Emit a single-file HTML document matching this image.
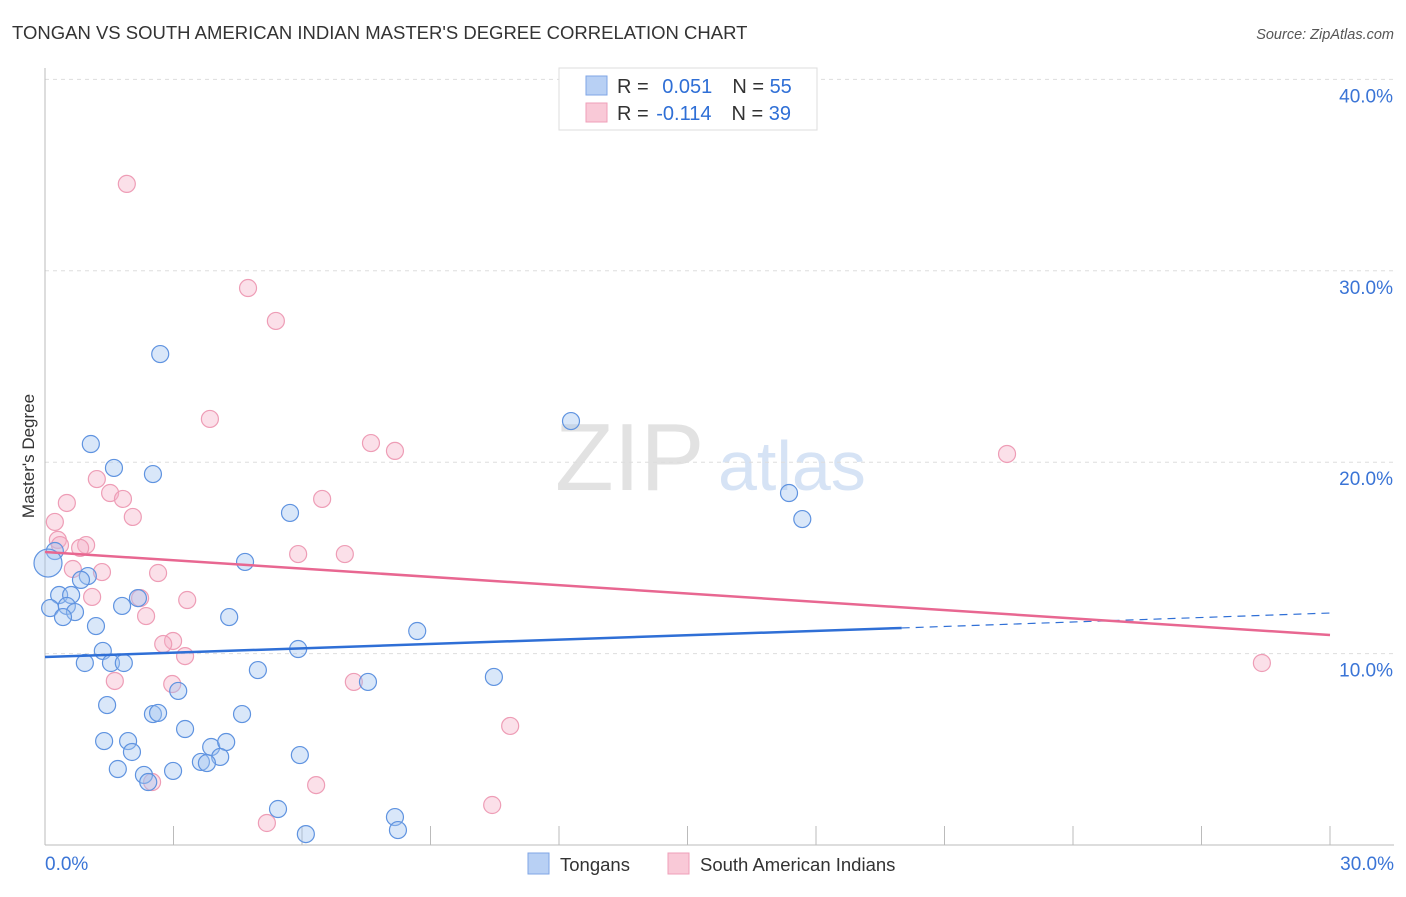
<!DOCTYPE html>
<html><head><meta charset="utf-8"><style>
body{margin:0;background:#fff;font-family:"Liberation Sans",sans-serif}
svg text{font-family:"Liberation Sans",sans-serif}
</style></head><body>
<svg id="chart" width="1406" height="892">
<text x="12" y="39" font-size="18.5" fill="#333">TONGAN VS SOUTH AMERICAN INDIAN MASTER'S DEGREE CORRELATION CHART</text>
<text x="1394" y="39" font-size="14.5" fill="#555" text-anchor="end" font-style="italic">Source: ZipAtlas.com</text>
<text x="34" y="456" font-size="17" fill="#333" text-anchor="middle" transform="rotate(-90 34 456)">Master's Degree</text>
<text x="555" y="490" font-size="96" fill="#e2e2e2" font-family="Liberation Serif">ZIP</text>
<text x="718" y="490" font-size="70" fill="#d6e3f5">atlas</text>
<g id="grid"></g>
<g id="axes"></g>
<g id="marks"></g>
<g id="legend">
<rect x="559" y="68" width="258" height="62" fill="#fff" stroke="#ddd"/>
<rect x="586" y="76" width="21" height="19" fill="#b8d0f4" stroke="#7fa6e6"/>
<rect x="586" y="103" width="21" height="19" fill="#f9c9d7" stroke="#ef9fb8"/>
<text x="617" y="93" font-size="20" fill="#333">R = <tspan fill="#2f6fd6" dx="8">0.051</tspan><tspan fill="#333" dx="20">N = </tspan><tspan fill="#2f6fd6">55</tspan></text>
<text x="617" y="120" font-size="20" fill="#333">R = <tspan fill="#2f6fd6" dx="2">-0.114</tspan><tspan fill="#333" dx="20">N = </tspan><tspan fill="#2f6fd6">39</tspan></text>
</g>
<g>
<rect x="528" y="853" width="21" height="21" fill="#b8d0f4" stroke="#7fa6e6"/>
<text x="560" y="871" font-size="18.5" fill="#333">Tongans</text>
<rect x="668" y="853" width="21" height="21" fill="#f9c9d7" stroke="#ef9fb8"/>
<text x="700" y="871" font-size="18.5" fill="#333">South American Indians</text>
</g>
</svg>
<script>
const xTicks=[0,30];
const yTicks=[10,20,30,40];
const blueX=[2.69,1.07,1.61,2.52,12.28,17.37,17.68,5.72,0.23,0.07,4.67,1.00,0.84,0.33,0.61,0.12,0.51,0.70,0.42,1.80,2.17,1.19,4.30,8.69,1.35,5.91,0.93,1.54,1.84,4.97,7.54,10.48,3.11,1.45,2.52,2.64,4.60,3.27,1.94,2.03,3.88,4.23,4.09,3.64,3.78,5.95,1.70,2.31,2.99,2.41,5.44,8.17,6.09,8.24,1.38];
const blueY=[25.65,20.95,19.70,19.38,22.15,18.39,17.03,17.35,15.36,14.73,14.79,14.05,13.85,13.06,13.06,12.38,12.49,12.17,11.91,12.49,12.90,11.44,11.91,11.18,10.14,10.24,9.51,9.51,9.51,9.14,8.52,8.78,8.05,7.31,6.84,6.90,6.84,6.06,5.43,4.86,5.12,5.38,4.60,4.34,4.28,4.70,3.97,3.66,3.87,3.29,1.88,1.46,0.57,0.78,5.43];
const pinkX=[1.91,4.74,5.39,3.85,7.61,8.17,22.46,1.21,0.51,1.52,1.82,6.47,2.05,0.23,0.30,0.35,0.96,0.82,5.91,7.00,0.65,1.33,2.64,1.10,2.22,3.32,2.36,2.99,2.76,3.27,1.63,2.97,7.21,10.86,6.33,2.50,10.44,5.18,28.41];
const pinkY=[34.54,29.10,27.38,22.26,21.00,20.59,20.43,19.12,17.87,18.39,18.08,18.08,17.14,16.88,15.94,15.67,15.67,15.52,15.20,15.20,14.42,14.26,14.21,12.96,12.90,12.80,11.96,10.66,10.50,9.87,8.57,8.41,8.52,6.22,3.13,3.29,2.09,1.15,9.51];
const blueTrend=[9.82,11.34,12.12]; // at x=0,20,30
const pinkTrend=[15.31,10.97]; // at x=0,30
const X0=45,X1=1330,Y0=845,PPY=19.14;
const sx=v=>X0+(v/30)*(X1-X0);
const sy=v=>Y0-v*PPY;
const NS="http://www.w3.org/2000/svg";
function mk(tag,attrs,parent){const e=document.createElementNS(NS,tag);for(const k in attrs)e.setAttribute(k,attrs[k]);parent.appendChild(e);return e;}
const grid=document.getElementById('grid'),axes=document.getElementById('axes'),marks=document.getElementById('marks');
yTicks.forEach(t=>{
 const l=mk('line',{x1:45,x2:1394,y1:sy(t),y2:sy(t),stroke:'#ddd','stroke-dasharray':'4,4'},grid);
 
 
 const tx=mk('text',{x:1393,y:sy(t)+23,'font-size':19,fill:'#3a74d6','text-anchor':'end'},axes);
 tx.textContent=t.toFixed(1)+'%';
 
 
});
const ax=mk('line',{x1:45,x2:45,y1:68,y2:845,stroke:'#bbb'},axes);


const bx=mk('line',{x1:45,x2:1394,y1:845,y2:845,stroke:'#bbb'},axes);


for(let i=1;i<=10;i++){
 const xx=X0+i*(X1-X0)/10;
 const tk=mk('line',{x1:xx,x2:xx,y1:826,y2:845,stroke:'#bbb'},axes);
 
 
}
xTicks.forEach((t,i)=>{
 const tx=mk('text',{x:i==0?45:1394,y:870,'font-size':19,fill:'#3a74d6','text-anchor':i==0?'start':'end'},axes);
 tx.textContent=t.toFixed(1)+'%';
 
 
});
pinkX.forEach((v,i)=>{
 const c=mk('circle',{cx:sx(v),cy:sy(pinkY[i]),r:8.5,fill:'rgba(246,178,200,0.4)',stroke:'#ee9db6','stroke-width':1.2},marks);
 
 
});
blueX.forEach((v,i)=>{
 const c=mk('circle',{cx:sx(v),cy:sy(blueY[i]),r:i==9?14:8.5,fill:'rgba(160,195,240,0.4)',stroke:'#5f93e0','stroke-width':1.2},marks);
 
 
});
const bl=mk('line',{x1:sx(0),y1:sy(blueTrend[0]),x2:sx(20),y2:sy(blueTrend[1]),stroke:'#2f6fd6','stroke-width':2.5},marks);


const bd=mk('line',{x1:sx(20),y1:sy(blueTrend[1]),x2:sx(30),y2:sy(blueTrend[2]),stroke:'#2f6fd6','stroke-width':1.2,'stroke-dasharray':'8,6'},marks);


const pl=mk('line',{x1:sx(0),y1:sy(pinkTrend[0]),x2:sx(30),y2:sy(pinkTrend[1]),stroke:'#e86791','stroke-width':2.5},marks);


</script>
</body></html>
